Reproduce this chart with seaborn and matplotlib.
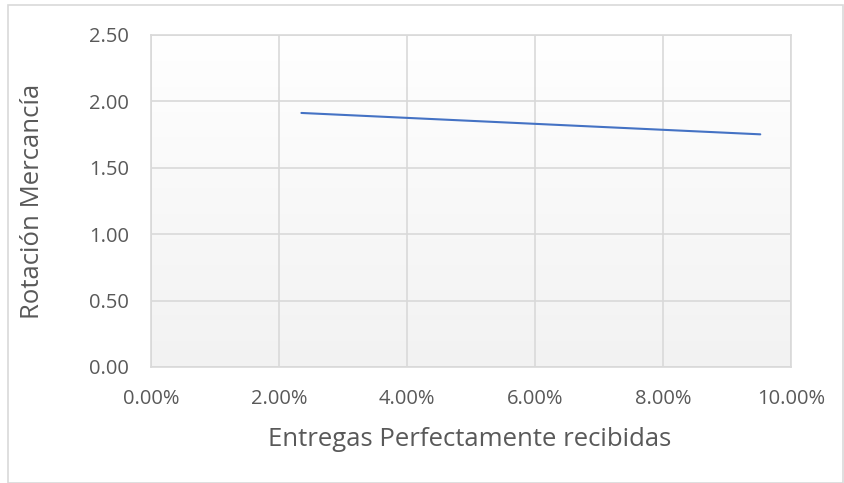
import numpy as np
import pandas as pd
import seaborn as sns
import matplotlib.pyplot as plt
from matplotlib.ticker import FuncFormatter
from matplotlib.patches import Rectangle
from matplotlib.colors import LinearSegmentedColormap

# Trend of stock rotation against perfectly received deliveries
entregas = [0.0235, 0.0952]
rotacion = [1.913, 1.752]

x_ticks = [0.0, 0.02, 0.04, 0.06, 0.08, 0.10]
y_ticks = [0.0, 0.5, 1.0, 1.5, 2.0, 2.5]

df = pd.DataFrame({"entregas": entregas, "rotacion": rotacion})

sns.set_theme(style="white")
plt.rcParams["font.family"] = ["Open Sans", "DejaVu Sans"]

text_color = "#595959"
grid_color = "#d9d9d9"

fig = plt.figure(figsize=(8.44, 4.83), dpi=100)
ax = fig.add_axes([151 / 844, 1 - 367 / 483, 640 / 844, 332 / 483])

# Outer chart border
fig.patches.append(Rectangle((8 / 844, 0.0), 835 / 844, 1 - 5 / 483,
                             transform=fig.transFigure, fill=False,
                             edgecolor=grid_color, linewidth=1.2))

# Plot-area vertical gradient: white at top to light grey at bottom
grad = np.linspace(1.0, 0.0, 256).reshape(-1, 1)
ax.imshow(grad, extent=[0, 1, 0, 1], transform=ax.transAxes, aspect="auto",
          cmap=LinearSegmentedColormap.from_list("bg", ["#f2f2f2", "#ffffff"]),
          vmin=0, vmax=1, zorder=0)

sns.lineplot(data=df, x="entregas", y="rotacion", ax=ax, color="#4472c4",
             linewidth=1.5, zorder=3)

ax.set_xlim(0, 0.10)
ax.set_ylim(0, 2.5)
ax.set_xticks(x_ticks)
ax.set_yticks(y_ticks)
ax.xaxis.set_major_formatter(FuncFormatter(lambda v, p: f"{v * 100:.2f}%"))
ax.yaxis.set_major_formatter(FuncFormatter(lambda v, p: f"{v:.2f}"))
ax.grid(True, color=grid_color, linewidth=1.2, zorder=1)
ax.set_axisbelow(True)
for s in ax.spines.values():
    s.set_color(grid_color)
    s.set_linewidth(1.2)

ax.tick_params(axis="both", length=0, labelsize=14.5, colors=text_color)
ax.tick_params(axis="x", pad=16)
ax.tick_params(axis="y", pad=16)

ax.set_xlabel("Entregas Perfectamente recibidas", fontsize=18.5, color=text_color)
ax.set_ylabel("Rotación Mercancía", fontsize=18.5, color=text_color)
ax.xaxis.set_label_coords(0.498, -0.18)
ax.yaxis.set_label_coords(-0.165, 0.5)

fig.savefig("out.png", dpi=100)
